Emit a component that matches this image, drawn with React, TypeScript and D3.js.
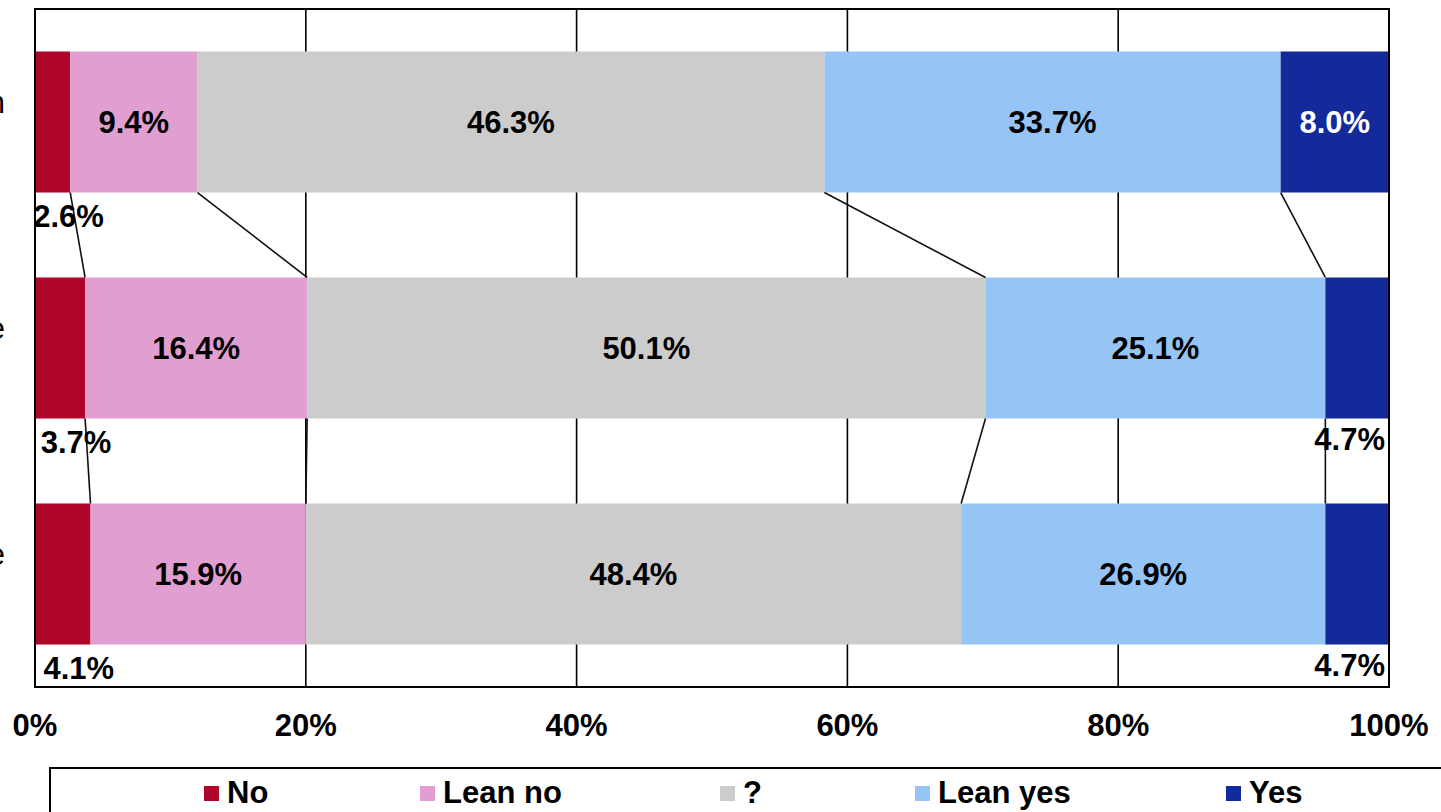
import React from "react";
import * as d3 from "d3";

// Response categories and their shares (%) for each of the three rounds
const categories = ["Before instruction", "After the lecture", "Delayed estimate"];
const seriesNames = ["No", "Lean no", "?", "Lean yes", "Yes"];
const noValues = [2.6, 3.7, 4.1];
const leanNoValues = [9.4, 16.4, 15.9];
const unsureValues = [46.3, 50.1, 48.4];
const leanYesValues = [33.7, 25.1, 26.9];
const yesValues = [8.0, 4.7, 4.7];
const tickValues = [0, 20, 40, 60, 80, 100];

const seriesColors = ["#B0062A", "#E09FD0", "#CCCCCC", "#96C4F4", "#142A9B"];
const labelColors = ["#000", "#000", "#000", "#000", "#fff"];

const W = 1441;
const H = 812;
const plot = { left: 35, right: 1389, top: 9, bottom: 687 };
const FONT = "'Liberation Sans', Arial, Helvetica, sans-serif";

export default function App() {
  const seriesValues = [noValues, leanNoValues, unsureValues, leanYesValues, yesValues];
  const rows = categories.map((_, i) => {
    const r: Record<string, number> = {};
    seriesNames.forEach((s, j) => (r[s] = seriesValues[j][i]));
    return r;
  });
  const stacked = d3.stack<Record<string, number>>().keys(seriesNames)(rows);

  const x = d3.scaleLinear().domain([0, 100]).range([plot.left, plot.right]);
  const y = d3
    .scaleBand<number>()
    .domain(d3.range(categories.length))
    .range([plot.top, plot.bottom])
    .paddingInner(0.376)
    .paddingOuter(0.188);
  const bw = y.bandwidth();

  // connector lines between cumulative boundaries of consecutive bars
  const connectors: { x1: number; y1: number; x2: number; y2: number }[] = [];
  for (let i = 0; i < rows.length - 1; i++) {
    for (let k = 0; k < seriesNames.length - 1; k++) {
      connectors.push({
        x1: x(stacked[k][i][1]),
        y1: (y(i) as number) + bw,
        x2: x(stacked[k][i + 1][1]),
        y2: y(i + 1) as number,
      });
    }
  }

  const legendX = [204, 420, 720, 915, 1226];

  return (
    <svg
      width={W}
      height={H}
      style={{ position: "absolute", left: 0, top: 0, background: "#fff" }}
      fontFamily={FONT}
    >
      {/* vertical gridlines */}
      {tickValues.slice(1, -1).map((t) => (
        <line key={t} x1={x(t)} x2={x(t)} y1={plot.top} y2={plot.bottom} stroke="#000" strokeWidth={1.6} />
      ))}

      {/* stacked segments */}
      {stacked.map((s, k) =>
        s.map((d, i) => (
          <rect
            key={`${k}-${i}`}
            x={x(d[0])}
            y={y(i)}
            width={x(d[1]) - x(d[0])}
            height={bw}
            fill={seriesColors[k]}
          />
        ))
      )}

      {/* connectors */}
      {connectors.map((c, i) => (
        <line key={i} x1={c.x1} y1={c.y1} x2={c.x2} y2={c.y2} stroke="#111" strokeWidth={1.6} />
      ))}

      {/* plot border */}
      <rect
        x={plot.left}
        y={plot.top}
        width={plot.right - plot.left}
        height={plot.bottom - plot.top}
        fill="none"
        stroke="#000"
        strokeWidth={2}
      />

      {/* data labels */}
      {stacked.map((s, k) =>
        s.map((d, i) => {
          const v = d[1] - d[0];
          const txt = `${v.toFixed(1)}%`;
          const top = y(i) as number;
          if (v >= 6) {
            return (
              <text
                key={`l-${k}-${i}`}
                x={(x(d[0]) + x(d[1])) / 2}
                y={top + bw / 2 + 11}
                textAnchor="middle"
                fontSize={31}
                fontWeight="bold"
                fill={labelColors[k]}
              >
                {txt}
              </text>
            );
          }
          const isLast = k === seriesNames.length - 1;
          return (
            <text
              key={`l-${k}-${i}`}
              x={isLast ? x(100) - 4 : (x(d[0]) + x(d[1])) / 2 + 16}
              y={top + bw + (isLast ? 31 : 34)}
              textAnchor={isLast ? "end" : "middle"}
              fontSize={31}
              fontWeight="bold"
              fill="#000"
            >
              {txt}
            </text>
          );
        })
      )}

      {/* category labels (run off the left edge) */}
      {categories.map((c, i) => (
        <text
          key={`c-${i}`}
          x={5}
          y={(y(i) as number) + bw / 2 - 9}
          textAnchor="end"
          fontSize={31}
          fill="#000"
        >
          {c}
        </text>
      ))}

      {/* x axis tick labels */}
      {tickValues.map((t) => (
        <text key={`t-${t}`} x={x(t)} y={736} textAnchor="middle" fontSize={31} fontWeight="bold">
          {`${t}%`}
        </text>
      ))}

      {/* legend */}
      <rect x={50} y={768} width={1450} height={100} fill="none" stroke="#000" strokeWidth={2} />
      {seriesNames.map((s, k) => (
        <g key={`lg-${k}`}>
          <rect x={legendX[k]} y={786} width={15} height={15} fill={seriesColors[k]} />
          <text x={legendX[k] + 23} y={803} fontSize={31} fontWeight="bold">
            {s}
          </text>
        </g>
      ))}
    </svg>
  );
}
